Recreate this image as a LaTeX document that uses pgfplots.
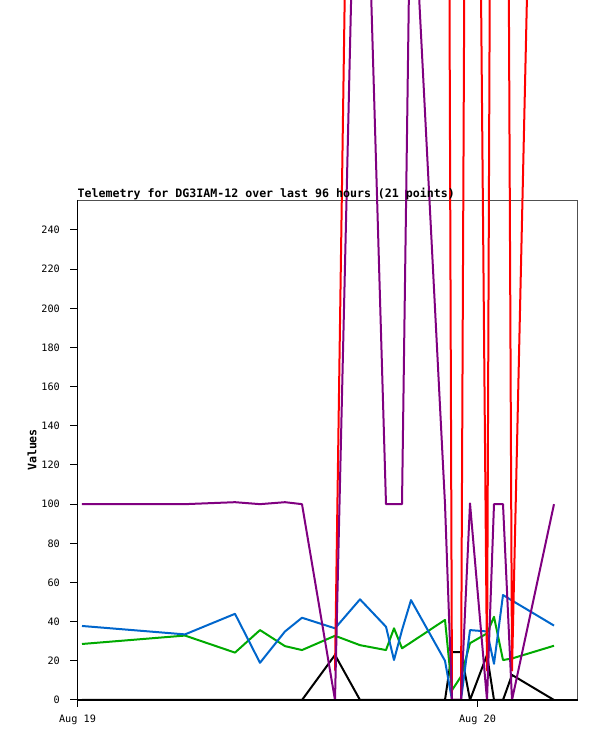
\documentclass[border=0pt]{standalone}
\usepackage{fontspec}
\setmonofont{DejaVu Sans Mono}
\usepackage{pgfplots}
\pgfplotsset{compat=1.18}
\usepackage{pgfplotstable}
\definecolor{tred}{RGB}{255,0,0}
\definecolor{tpurple}{RGB}{128,0,128}
\definecolor{tblue}{RGB}{0,102,204}
\definecolor{tgreen}{RGB}{0,170,0}
\definecolor{tframe}{RGB}{80,80,80}

\pgfplotstableread{
h     black blue green purple red
0.27  0     37.8 28.6  100    nan
6.45  0     33.5 32.9  100    nan
9.45  0     44   24.2  101    nan
10.95 0     19   35.7  100    nan
12.45 0     35   27.5  101    nan
13.47 0     42   25.5  100    nan
15.45 23    36.6 32.8  0      15
16.95 0     51.4 28    555    900
18.51 0     37.4 25.5  100    1000
18.99 0     20.4 36.6  100    1000
19.47 0     35.7 26.4  100    1000
20.01 0     51   29.4  440    1000
22.05 0     20   40.9  100    1000
22.47 24.4  0    5     0      0
23.01 24.4  0    12    0      0
23.55 0     35.7 29    100.4  1000
24.57 23    35   34    0      15
24.99 0     18.5 42.5  100    900
25.53 0     53.6 20.4  100    1000
26.07 12.8  50.8 21.2  0      15
28.59 0     38   27.7  100    980
}\telem

\begin{document}
\begin{tikzpicture}
\useasboundingbox (-77.5pt,-41pt) rectangle (519.5pt,700pt);
\clip (-77.5pt,-41pt) rectangle (519.5pt,700pt);
\begin{axis}[
  at={(0pt,0pt)}, anchor=south west,
  scale only axis, width=500pt, height=500pt,
  xmin=0, xmax=30, ymin=0, ymax=255.3,
  clip=false,
  axis line style={draw=tframe, line width=0.8pt},
  xtick={0,24}, xticklabels={Aug 19, Aug 20},
  ytick={0,20,...,240},
  tick align=outside,
  tick pos=left,
  major tick length=7pt,
  tick style={black, line width=1pt},
  /pgf/number format/assume math mode=true,
  ticklabel style={font=\fontsize{10.2}{12}\selectfont\ttfamily},
  yticklabel style={anchor=east, inner sep=0pt, xshift=-10.5pt},
  xticklabel style={anchor=base, inner sep=0pt, yshift=-15.5pt},
  every axis plot/.append style={line width=2pt, mark=none, line join=round},
]
\addplot[black] table[x=h, y=black] {\telem};
\addplot[tgreen] table[x=h, y=green] {\telem};
\addplot[tblue] table[x=h, y=blue] {\telem};
\addplot[tred] table[x=h, y=red] {\telem};
\addplot[tpurple] table[x=h, y=purple] {\telem};
\draw[black, line width=1.4pt] (rel axis cs:0,1) -- (rel axis cs:0,0) -- (rel axis cs:1,0);
\node[anchor=base west, inner sep=0pt, yshift=2.5pt, font=\fontsize{11.6}{13}\selectfont\ttfamily\bfseries] at (rel axis cs:0,1) {Telemetry for DG3IAM-12 over last 96 hours (21 points)};
\node[rotate=90, inner sep=0pt, font=\fontsize{11.6}{13}\selectfont\ttfamily\bfseries] at ([xshift=-45.5pt]rel axis cs:0,0.5) {Values};
\end{axis}
\end{tikzpicture}
\end{document}
